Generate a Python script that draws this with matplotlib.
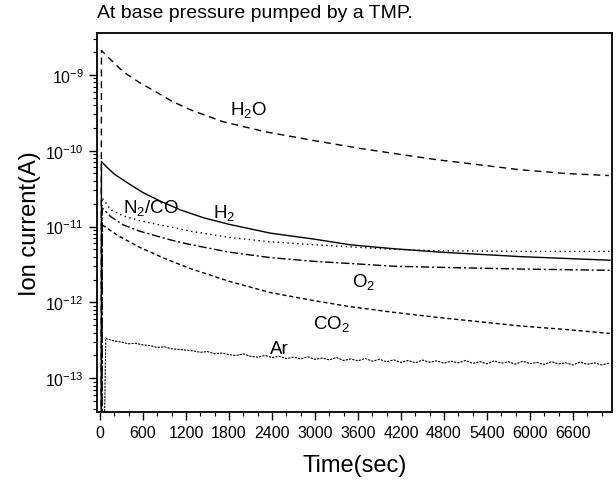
import matplotlib
matplotlib.use("Agg")
from matplotlib import pyplot as plt
import numpy as np

plt.rcParams["font.family"] = ["Liberation Sans", "DejaVu Sans"]
plt.rcParams["mathtext.fontset"] = "custom"
plt.rcParams["mathtext.rm"] = "Liberation Sans"
plt.rcParams["mathtext.it"] = "Liberation Sans"

# values (time in s, ion current in A)
t_h2o = [15, 20, 170, 320, 550, 790, 1000, 1256, 1720, 2300, 3000, 3630, 4200, 4700, 5300, 5860, 6500, 7100]
i_h2o = [1e-14, 2.09e-9, 1.51e-9, 1.10e-9, 7.9e-10, 5.89e-10, 4.5e-10, 3.47e-10, 2.4e-10, 1.78e-10,
         1.35e-10, 1.07e-10, 8.9e-11, 7.6e-11, 6.5e-11, 5.6e-11, 5.0e-11, 4.7e-11]

t_h2 = [15, 20, 100, 200, 377, 600, 847, 1126, 1451, 1800, 2372, 3000, 3488, 4100, 4744, 5900, 7116]
i_h2 = [1e-14, 7.2e-11, 6.0e-11, 4.9e-11, 3.8e-11, 2.8e-11, 2.15e-11, 1.65e-11, 1.3e-11, 1.07e-11,
        8.2e-12, 6.8e-12, 5.75e-12, 5.1e-12, 4.6e-12, 4.0e-12, 3.6e-12]

t_n2 = [25, 28, 150, 326, 550, 791, 1000, 1256, 1800, 2372, 3000, 3488, 4100, 4744, 5900, 7116]
i_n2 = [1e-14, 2.4e-11, 1.66e-11, 1.38e-11, 1.2e-11, 1.07e-11, 9.8e-12, 8.7e-12, 7.2e-12, 6.3e-12,
        5.75e-12, 5.4e-12, 5.0e-12, 4.8e-12, 4.7e-12, 4.7e-12]

t_o2 = [28, 32, 150, 326, 550, 791, 1000, 1256, 1800, 2372, 3000, 3488, 4100, 4744, 5900, 7116]
i_o2 = [1e-14, 1.75e-11, 1.35e-11, 1.05e-11, 8.7e-12, 7.5e-12, 6.6e-12, 5.8e-12, 4.6e-12, 3.9e-12,
        3.47e-12, 3.26e-12, 3.0e-12, 2.9e-12, 2.75e-12, 2.65e-12]

t_co2 = [28, 32, 250, 558, 900, 1256, 1800, 2372, 3000, 3488, 4100, 4744, 5860, 6500, 7116]
i_co2 = [1e-14, 1.05e-11, 7.6e-12, 5.3e-12, 3.8e-12, 2.8e-12, 1.9e-12, 1.35e-12, 1.05e-12, 8.8e-13,
         7.4e-13, 6.3e-13, 4.9e-13, 4.4e-13, 3.9e-13]

t_ar = [60, 80] + list(range(100, 7200, 100))
i_ar = [2e-14, 3.4e-13] + [x * 1e-13 for x in [
    3.3, 3.1, 3.0, 2.85, 2.9, 2.75, 2.7, 2.55, 2.6, 2.45, 2.4, 2.35, 2.3, 2.2, 2.25,
    2.1, 2.15, 2.05, 2.0, 2.1, 1.95, 1.9, 2.0, 1.88, 1.95, 1.82, 1.9, 1.8, 1.92, 1.78,
    1.85, 1.75, 1.88, 1.72, 1.8, 1.7, 1.83, 1.68, 1.78, 1.65, 1.75, 1.62, 1.72, 1.6,
    1.74, 1.63, 1.7, 1.58, 1.68, 1.6, 1.72, 1.57, 1.66, 1.55, 1.7, 1.58, 1.65, 1.54,
    1.68, 1.56, 1.62, 1.52, 1.66, 1.55, 1.6, 1.5, 1.64, 1.53, 1.6, 1.5, 1.58]]

xticks = list(range(0, 7200, 600))

fig = plt.figure(figsize=(6.16, 4.81), dpi=100)
ax = fig.add_axes([0.1575, 0.1414, 0.836, 0.7879])

ax.plot(t_h2o, i_h2o, color="k", lw=1.0, dashes=(5, 3.5))
ax.plot(t_h2, i_h2, color="k", lw=1.0)
ax.plot(t_n2, i_n2, color="k", lw=1.0, dashes=(1, 2.5))
ax.plot(t_o2, i_o2, color="k", lw=1.0, dashes=(6, 2, 1.5, 2))
ax.plot(t_co2, i_co2, color="k", lw=1.0, dashes=(3, 2))
ax.plot(t_ar, i_ar, color="k", lw=0.8, dashes=(2, 1))

ax.set_yscale("log")
ax.set_xlim(-42, 7145)
ax.set_ylim(3.6e-14, 3.55e-9)
ax.set_xticks(xticks)
ax.set_xticks(range(0, 7200, 200), minor=True)
ax.set_yticks([1e-13, 1e-12, 1e-11, 1e-10, 1e-9])

ax.tick_params(which="major", direction="out", length=6, width=1, labelsize=11.5)
ax.tick_params(which="minor", direction="out", length=3, width=0.8)
for s in ax.spines.values():
    s.set_linewidth(1.3)

ax.set_xlabel("Time(sec)", fontsize=17, labelpad=10)
ax.set_ylabel("Ion current(A)", fontsize=17, labelpad=3)
fig.text(0.1575, 1 - 13 / 481, "At base pressure pumped by a TMP.", fontsize=14, va="center", ha="left")

lab = dict(fontsize=13.5, ha="left", va="baseline")
ax.text(1814, 3.07e-10, "H$_2$O", **lab)
ax.text(1577, 1.35e-11, "H$_2$", **lab)
ax.text(321, 1.57e-11, "N$_2$/CO", **lab)
ax.text(3516, 1.67e-12, "O$_2$", **lab)
ax.text(2972, 4.55e-13, "CO$_2$", **lab)
ax.text(2372, 2.13e-13, "Ar", **lab)

fig.savefig("out.png", dpi=100)
